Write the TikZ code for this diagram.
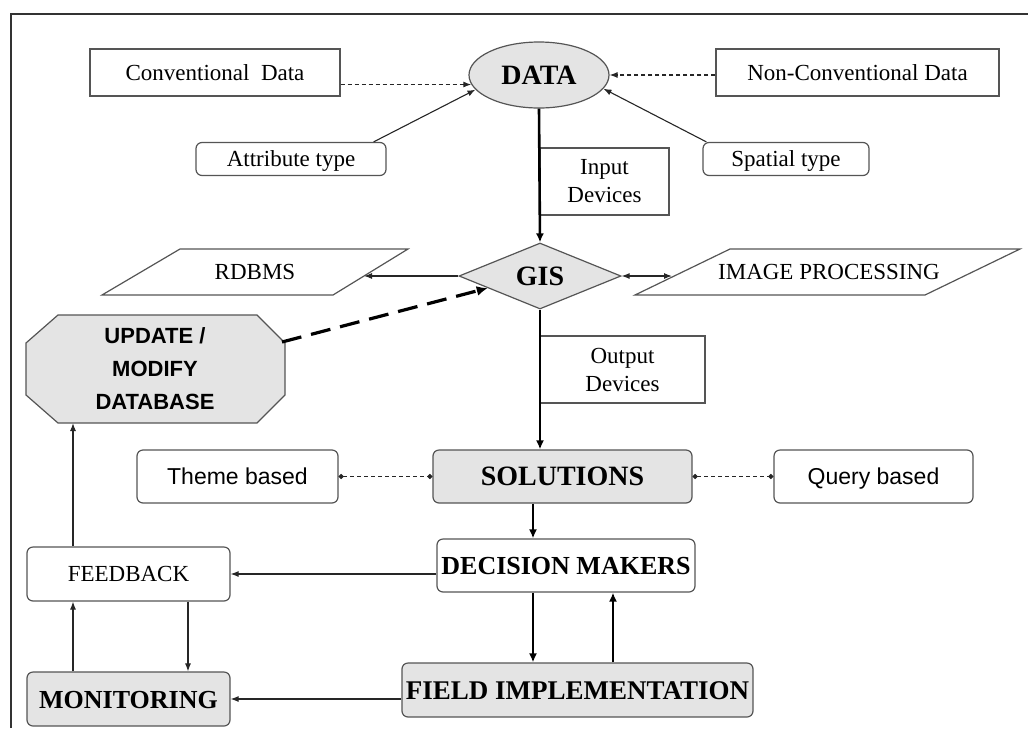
\documentclass[tikz,border=0pt]{standalone}
\usepackage{fontspec}
\setmainfont{Liberation Serif}
\setsansfont{Liberation Sans}
\usetikzlibrary{arrows.meta,shapes.geometric}
\definecolor{boxgray}{HTML}{E4E4E4}
\definecolor{edge}{HTML}{555555}
\newcommand{\bigb}[1]{\fontsize{#1}{28}\selectfont\bfseries}
\begin{document}
\begin{tikzpicture}[x=1pt,y=-1pt,
  box/.style={draw=edge, line width=1.2pt, fill=white, inner sep=0pt, align=center,
    font=\fontsize{23}{28}\selectfont},
  rbox/.style={box, rounded corners=6pt, text height=15.5pt, text depth=0pt},
  sbox/.style={rbox, font=\sffamily\fontsize{23}{26}\selectfont, text height=16.5pt},
  gbox/.style={rbox, fill=boxgray},
  bb/.style={text height=18pt},
  shp/.style={draw=edge, line width=1.2pt},
  conn/.style={draw=black!85, line width=1.1pt, -{Latex[length=8pt,width=6pt]}},
  bconn/.style={draw=black, line width=2.6pt, -{Latex[length=9pt,width=8pt]}},
  dconn/.style={conn, dash pattern=on 4pt off 3pt},
  dotconn/.style={draw=black!85, line width=1.1pt, dash pattern=on 4pt off 3pt,
    {Circle[length=5pt]}-{Circle[length=5pt]}},
  updconn/.style={draw=black, line width=3.2pt, dash pattern=on 20pt off 10pt,
    -{Latex[length=11pt,width=10pt]}}
]
\useasboundingbox (0,0) rectangle (1028,732);
% frame
\draw[line width=1.2pt, draw=black!80] (11,728) -- (11,14) -- (1028,14);

% helper columns
\coordinate (c73) at (73,0);
\coordinate (c188) at (188,0);
\coordinate (c533) at (533,0);
\coordinate (c613) at (613,0);

% top row
\node[box, minimum width=250, minimum height=47] (conv) at (215,72.5) {Conventional\ \ Data};
\node[box, minimum width=283, minimum height=47] (nonconv) at (857.5,72.5) {Non-Conventional Data};
\node[draw=edge, line width=1.2pt, fill=boxgray, ellipse, minimum width=140, minimum height=66,
  inner sep=0pt, font=\bigb{28}] (data) at (539,75) {DATA};
\node[rbox, minimum width=190, minimum height=33] (attr) at (291,159) {Attribute type};
\node[rbox, minimum width=166, minimum height=33] (spat) at (786,159) {Spatial type};
\node[box, minimum width=129, minimum height=67] (input) at (604.5,181.5) {Input\\Devices};

% GIS row
\node[draw=edge, line width=1.2pt, fill=boxgray, diamond, aspect=2.45, minimum width=162,
  minimum height=66, inner sep=0pt, font=\bigb{28}] (gis) at (540,276) {GIS};
\draw[shp] (180,249) -- (408,249) -- (333,295) -- (102,295) -- cycle;
\node[font=\fontsize{23}{26}\selectfont] (rdbms) at (255,272) {RDBMS};
\coordinate (rdbmsR) at (364,276);
\draw[shp] (730,249) -- (1020,249) -- (925,295) -- (635,295) -- cycle;
\node[font=\fontsize{23}{26}\selectfont] (imgp) at (829,272) {IMAGE PROCESSING};
\coordinate (imgpL) at (672,276);

% update octagon
\draw[shp, fill=boxgray] (58,315) -- (257,315) -- (285,343) -- (285,395) -- (257,423)
  -- (58,423) -- (26,395) -- (26,343) -- cycle;
\node[align=center, font=\sffamily\bfseries\fontsize{22}{33}\selectfont] (upd) at (155,369)
  {UPDATE /\\MODIFY\\DATABASE};
\coordinate (updS) at (155,423);
\coordinate (updE) at (282,342);

\node[box, minimum width=165, minimum height=67] (output) at (622.5,369.5) {Output\\Devices};

% solutions row
\node[gbox, bb, font=\bigb{28}, minimum width=259, minimum height=53] (sol) at (562.5,476.5) {SOLUTIONS};
\node[sbox, minimum width=201, minimum height=53] (theme) at (237.5,476.5) {Theme based};
\node[sbox, minimum width=199, minimum height=53] (query) at (873.5,476.5) {Query based};

% lower part
\node[rbox, bb, font=\bigb{26}, minimum width=258, minimum height=53] (dm) at (566,565.5) {DECISION MAKERS};
\node[rbox, minimum width=203, minimum height=54] (feed) at (128.5,574) {FEEDBACK};
\node[gbox, bb, font=\bigb{27}, minimum width=351, minimum height=54] (field) at (577.5,690) {FIELD IMPLEMENTATION};
\node[gbox, bb, font=\bigb{26}, minimum width=203, minimum height=54] (mon) at (128.5,699) {MONITORING};

% connectors
\draw[dconn] (conv.east |- data.188) -- (data.188);
\draw[dconn] (nonconv.west |- data.east) -- (data.east);
\draw[conn] ([xshift=-13pt]attr.north east) -- (data.193);
\draw[conn] ([xshift=4pt]spat.north west) -- (data.-12);
\draw[bconn] (data.south) -- (gis.north);
\draw[conn] (gis.west) -- (rdbmsR);
\draw[conn, {Latex[length=8pt,width=6pt]}-{Latex[length=8pt,width=6pt]}] (gis.east) -- (imgpL);
\draw[updconn] (updE) -- (gis.193);
\draw[bconn] (gis.south) -- (gis.south |- sol.north);
\draw[dotconn] (theme.east) -- (sol.west);
\draw[dotconn] (sol.east) -- (query.west);
\draw[bconn] (c533 |- sol.south) -- (c533 |- dm.north);
\draw[conn] (dm.west |- feed.east) -- (feed.east);
\draw[conn] (c73 |- feed.north) -- (c73 |- updS);
\draw[bconn] (c533 |- dm.south) -- (c533 |- field.north);
\draw[bconn] (c613 |- field.north) -- (c613 |- dm.south);
\draw[conn] (field.west |- mon.east) -- (mon.east);
\draw[conn] (c73 |- mon.north) -- (c73 |- feed.south);
\draw[conn] (c188 |- feed.south) -- (c188 |- mon.north);
\end{tikzpicture}
\end{document}
